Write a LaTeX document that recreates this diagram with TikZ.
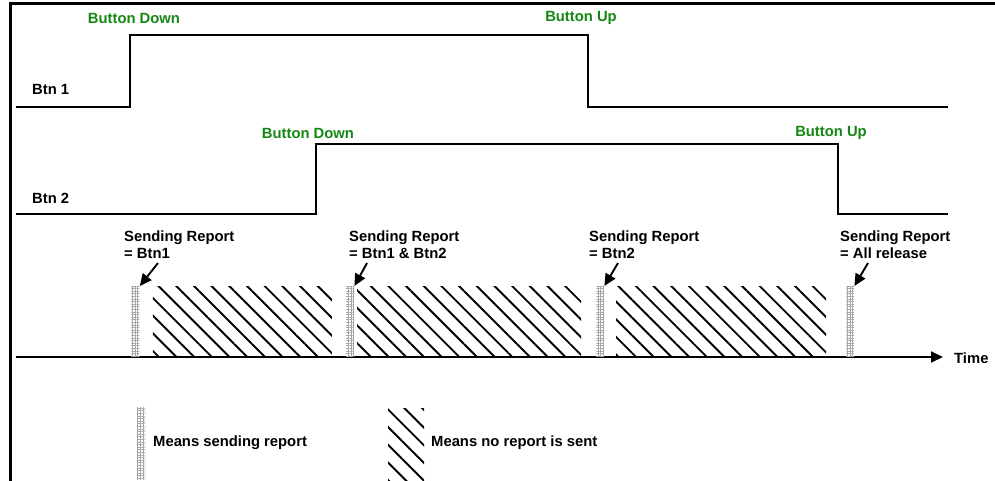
\documentclass[tikz,border=0pt]{standalone}
\usepackage{fontspec}
\setmainfont{Liberation Sans}
\usetikzlibrary{arrows.meta,patterns.meta,calc}

\definecolor{evgreen}{RGB}{20,135,20}

\tikzset{
  lbl/.style={font=\fontsize{14.8}{17}\selectfont\bfseries, inner sep=0pt},
  evlbl/.style={lbl, text=evgreen},
  signal/.style={line width=1.8pt, line join=miter},
  frameline/.style={line width=3pt},
  axis/.style={line width=1.8pt, -{Triangle[length=12pt,width=11pt]}},
  pointer/.style={line width=1.9pt, -{Triangle[length=12pt,width=11pt]}},
  sendbar/.style={draw=none, minimum width=8pt, inner sep=0pt,
    pattern={Hatch[angle=0,distance=2.6pt,line width=0.8pt]}, pattern color=black!35},
  idlebox/.style={draw=none, inner sep=0pt,
    pattern={Lines[angle=-45,distance=12.5pt,line width=1.9pt]}, pattern color=black},
}

\begin{document}
\begin{tikzpicture}[x=1pt,y=-1pt]
\useasboundingbox (0,0) rectangle (995,481);

% outer frame (top and left edges)
\draw[frameline] (10,481) -- (10,4) -- (995,4);

% Btn 1 waveform
\draw[signal] (16,107) -- (130,107) -- (130,35) -- (588,35) -- (588,107) -- (948,107);
\node[lbl, anchor=west] (b1) at (32,89) {Btn 1};
\node[evlbl] (b1down) at (134,18) {Button Down};
\node[evlbl] (b1up) at (581,18) {Button Up};

% Btn 2 waveform
\draw[signal] (16,214) -- (316,214) -- (316,144) -- (838,144) -- (838,214) -- (948,214);
\node[lbl, anchor=west] (b2) at (32,198) {Btn 2};
\node[evlbl] (b2down) at (308,133) {Button Down};
\node[evlbl] (b2up) at (831,133) {Button Up};

% time axis
\coordinate (t0) at (16,357);
\coordinate (t1) at (943,357);
\draw[axis] (t0) -- (t1);
\node[lbl, anchor=west] (time) at (954,358) {Time};

% periods without reports
\node[idlebox, minimum width=179pt, minimum height=71pt, anchor=north west] (idle1) at (152,286) {};
\node[idlebox, minimum width=224pt, minimum height=71pt, anchor=north west] (idle2) at (357,286) {};
\node[idlebox, minimum width=210pt, minimum height=71pt, anchor=north west] (idle3) at (616,286) {};

% report transmissions
\node[sendbar, minimum height=71pt, anchor=north west] (r1) at (131,286) {};
\node[sendbar, minimum height=71pt, anchor=north west] (r2) at (346,286) {};
\node[sendbar, minimum height=71pt, anchor=north west] (r3) at (596,286) {};
\node[sendbar, minimum height=71pt, anchor=north west] (r4) at (846,286) {};

% report captions
\node[lbl, anchor=north west, align=left] (c1) at (124,231) {Sending Report\\= Btn1};
\node[lbl, anchor=north west, align=left] (c2) at (349,231) {Sending Report\\= Btn1 \& Btn2};
\node[lbl, anchor=north west, align=left] (c3) at (589,231) {Sending Report\\= Btn2};
\node[lbl, anchor=north west, align=left] (c4) at (840,231) {Sending Report\\= All release};

\coordinate (p1) at (158,263);
\coordinate (p2) at (367,263);
\coordinate (p3) at (618,263);
\coordinate (p4) at (868,263);
\draw[pointer] (p1) -- (r1.north east);
\draw[pointer] (p2) -- (r2.north east);
\draw[pointer] (p3) -- (r3.north east);
\draw[pointer] (p4) -- (r4.north east);

% legend
\node[sendbar, minimum height=72pt, anchor=north west] (legsend) at (137,407) {};
\node[lbl, anchor=west] (legsendtxt) at (153,443) {Means sending report};
\node[idlebox, minimum width=36pt, minimum height=74pt, anchor=north west] (legidle) at (388,408) {};
\node[lbl, anchor=west] (legidletxt) at (431,443) {Means no report is sent};
\end{tikzpicture}
\end{document}
